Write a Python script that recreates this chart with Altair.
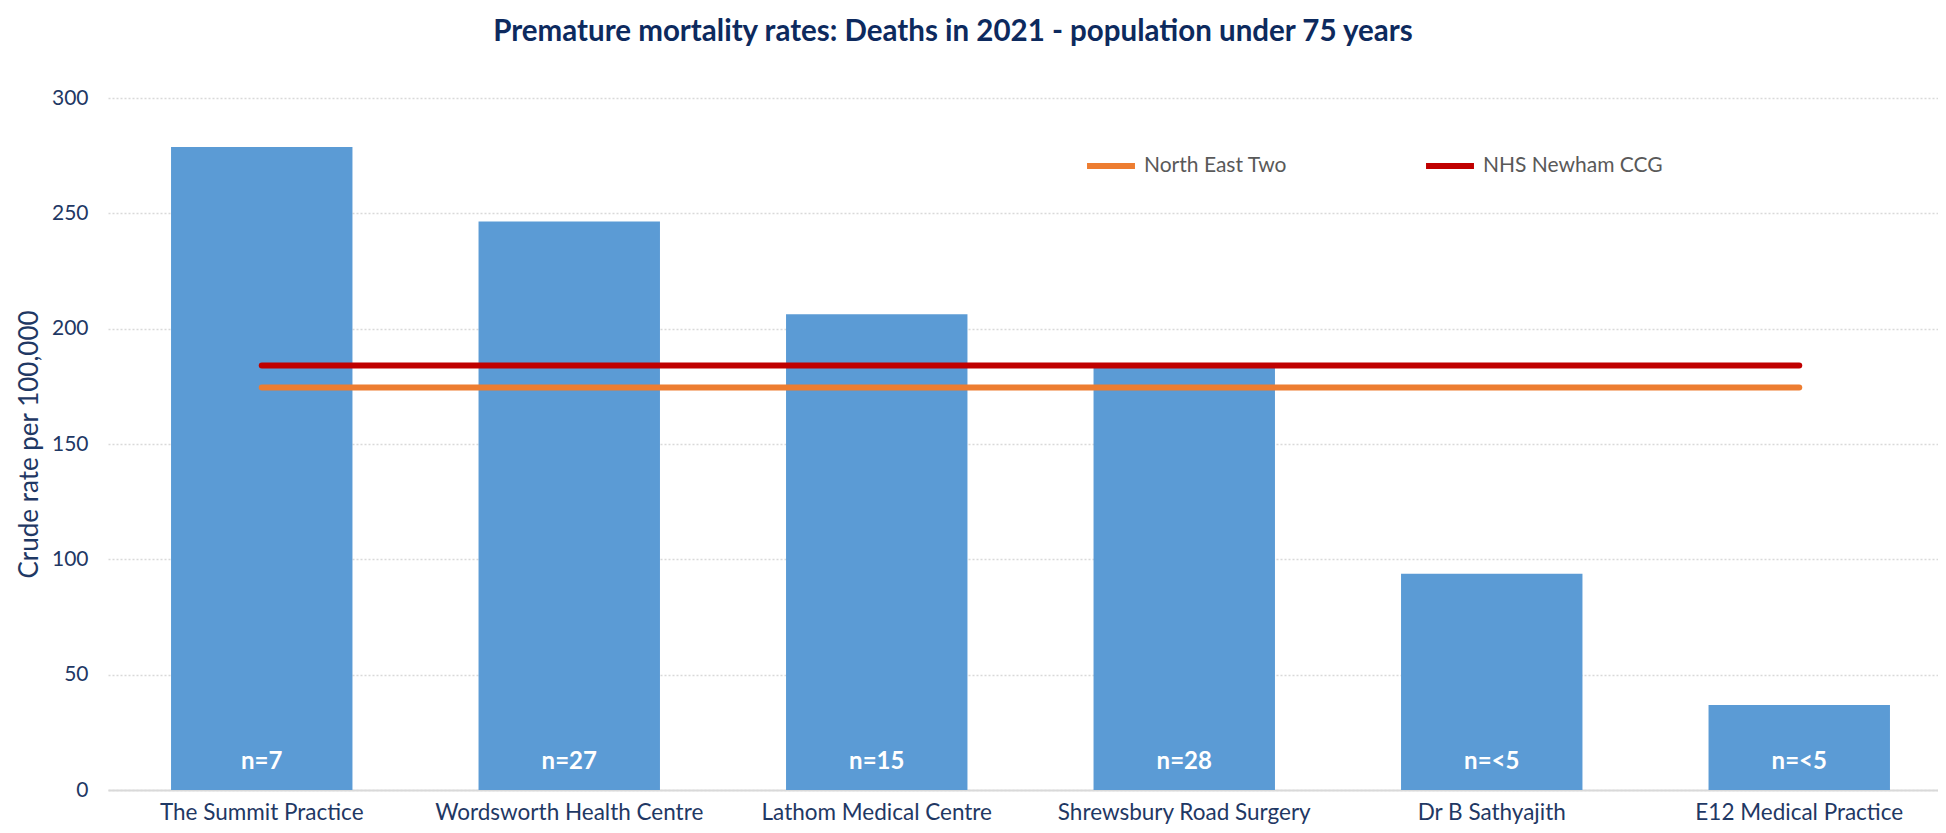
import altair as alt
import pandas as pd

practices = ["The Summit Practice", "Wordsworth Health Centre", "Lathom Medical Centre",
             "Shrewsbury Road Surgery", "Dr B Sathyajith", "E12 Medical Practice"]
rates = [278.8, 246.5, 206.3, 183.0, 93.8, 36.8]
counts = ["n=7", "n=27", "n=15", "n=28", "n=<5", "n=<5"]

bench_names = ["North East Two", "NHS Newham CCG"]
bench_values = [174.5, 184.0]
bench_colors = ["#ED7D31", "#C00000"]

y_ticks = [0, 50, 100, 150, 200, 250, 300]

NAVY = "#1F3864"
FONT = "Lato"

bars_df = pd.DataFrame({"practice": practices, "rate": rates, "label": counts})
lines_df = pd.DataFrame(
    [{"practice": p, "series": n, "value": v}
     for n, v in zip(bench_names, bench_values) for p in practices]
)

xscale = alt.Scale(domain=practices, range=[0, 1845], paddingInner=0.41, paddingOuter=0.205)
x_enc = alt.X("practice:N", scale=xscale, sort=practices,
              axis=alt.Axis(title=None, labelAngle=0, labelFontSize=22.5, labelColor=NAVY,
                            labelFont=FONT, labelPadding=11, ticks=False,
                            domainColor="#D9D9D9", domainWidth=2, labelLimit=400))
yscale = alt.Scale(domain=[0, 300], nice=False)
y_axis = alt.Axis(title="Crude rate per 100,000", values=y_ticks, grid=True,
                  gridColor="#D9D9D9", gridDash=[2, 2], gridWidth=1.5,
                  domain=False, ticks=False, labelFontSize=21, labelColor=NAVY,
                  labelFont=FONT, labelPadding=20, titleFont=FONT, titleFontSize=26,
                  titleFontWeight="normal", titleColor=NAVY, titlePadding=9)

bars = alt.Chart(bars_df).mark_bar(color="#5B9BD5").encode(
    x=x_enc,
    y=alt.Y("rate:Q", scale=yscale, axis=y_axis),
)

labels = alt.Chart(bars_df).mark_text(
    color="white", font=FONT, fontSize=24, fontWeight="bold", dy=-28, baseline="middle"
).encode(
    x=alt.X("practice:N", scale=xscale, sort=practices),
    y=alt.datum(0),
    text="label:N",
)

lines = alt.Chart(lines_df).mark_line(strokeWidth=6, strokeCap="round").encode(
    x=alt.X("practice:N", scale=xscale, sort=practices),
    y=alt.Y("value:Q", scale=yscale),
    color=alt.Color("series:N", sort=bench_names,
                    scale=alt.Scale(domain=bench_names, range=bench_colors),
                    legend=alt.Legend(title=None, orient="none", direction="horizontal",
                                      legendX=976, legendY=41, symbolType="stroke",
                                      symbolStrokeWidth=6, symbolSize=2300,
                                      labelFont=FONT, labelFontSize=21, labelColor="#595959",
                                      labelOffset=6, columnPadding=126, labelLimit=400)),
)

chart = alt.layer(bars, lines, labels).properties(
    width=1830,
    height=692,
    autosize=alt.AutoSizeParams(type="none"),
    padding={"left": 100, "top": 90, "right": 0, "bottom": 35},
    title=alt.TitleParams(
        "Premature mortality rates: Deaths in 2021 - population under 75 years",
        font=FONT, fontSize=29.5, fontWeight="bold", color="#0D2A5E",
        anchor="middle", dx=-70, offset=40,
    ),
).configure_view(stroke=None)

chart.save("out.html", embed_options={"renderer": "svg", "actions": False})
